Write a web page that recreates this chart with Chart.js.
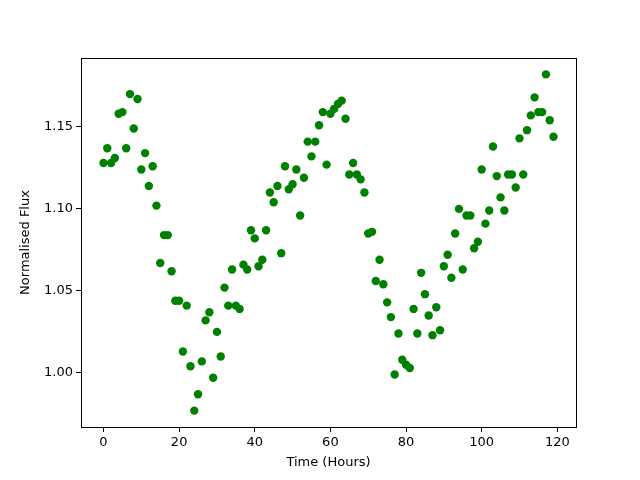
<!DOCTYPE html>
<html>
<head>
<meta charset="utf-8">
<script src="https://cdn.jsdelivr.net/npm/chart.js@4/dist/chart.umd.min.js"></script>
<style>
  html, body { margin: 0; padding: 0; background: #fff; }
  canvas { display: block; }
</style>
</head>
<body>
<canvas id="myChart" width="640" height="480"></canvas>
<script>
// time in hours, one reading per hour
const hours = [];
for (let i = 0; i < 120; i++) hours.push(i);

const flux = [
  1.128, 1.137, 1.128, 1.131, 1.158, 1.159, 1.137, 1.170, 1.149, 1.167,
  1.124, 1.134, 1.114, 1.126, 1.102, 1.067, 1.084, 1.084, 1.062, 1.044,
  1.044, 1.013, 1.041, 1.004, 0.977, 0.987, 1.007, 1.032, 1.037, 0.997,
  1.025, 1.010, 1.052, 1.041, 1.063, 1.041, 1.039, 1.066, 1.063, 1.087,
  1.082, 1.065, 1.069, 1.087, 1.110, 1.104, 1.114, 1.073, 1.126, 1.112,
  1.115, 1.124, 1.096, 1.119, 1.141, 1.132, 1.141, 1.151, 1.159, 1.127,
  1.158, 1.161, 1.164, 1.166, 1.155, 1.121, 1.128, 1.121, 1.118, 1.110,
  1.085, 1.086, 1.056, 1.069, 1.054, 1.043, 1.034, 0.999, 1.024, 1.008,
  1.005, 1.003, 1.039, 1.024, 1.061, 1.048, 1.035, 1.023, 1.040, 1.026,
  1.065, 1.072, 1.058, 1.085, 1.100, 1.063, 1.096, 1.096, 1.076, 1.080,
  1.124, 1.091, 1.099, 1.138, 1.120, 1.107, 1.099, 1.121, 1.121, 1.113,
  1.143, 1.121, 1.148, 1.157, 1.168, 1.159, 1.159, 1.182, 1.154, 1.144
];

const xTicks = [0, 20, 40, 60, 80, 100, 120];
const yTicks = [1.00, 1.05, 1.10, 1.15];

const points = hours.map((h, i) => ({ x: h, y: flux[i] }));

// box around the plot area, like matplotlib spines
const frame = {
  id: "frame",
  afterDraw(chart) {
    const { ctx, chartArea: a } = chart;
    ctx.save();
    ctx.strokeStyle = "#000";
    ctx.lineWidth = 1;
    ctx.strokeRect(a.left + 0.5, a.top + 0.5, a.right - a.left, a.bottom - a.top);
    ctx.restore();
  },
};

const font = { family: "DejaVu Sans", size: 13 };

const ctx = document.getElementById("myChart").getContext("2d");
new Chart(ctx, {
  type: "scatter",
  data: {
    datasets: [
      {
        data: points,
        backgroundColor: "#008000",
        borderColor: "#008000",
        borderWidth: 0,
        pointRadius: 4.2,
        pointHoverRadius: 4.2,
      },
    ],
  },
  options: {
    responsive: false,
    animation: false,
    layout: { padding: { top: 58, right: 64, left: 0, bottom: 0 } },
    plugins: { legend: { display: false }, tooltip: { enabled: false } },
    scales: {
      x: {
        type: "linear",
        min: -5.95,
        max: 124.95,
        afterBuildTicks: (s) => { s.ticks = xTicks.map((v) => ({ value: v })); },
        afterFit: (s) => { s.height = 53; },
        grid: { display: true, drawOnChartArea: false, drawTicks: true, tickLength: 5, color: "#000" },
        border: { display: false },
        ticks: { color: "#000", font: font, padding: 3, maxRotation: 0 },
        title: { display: true, text: "Time (Hours)", color: "#000", font: font, padding: { top: 2, bottom: 10 } },
      },
      y: {
        type: "linear",
        min: 0.967,
        max: 1.192,
        afterBuildTicks: (s) => { s.ticks = yTicks.map((v) => ({ value: v })); },
        afterFit: (s) => { s.width = 81; },
        grid: { display: true, drawOnChartArea: false, drawTicks: true, tickLength: 5, color: "#000" },
        border: { display: false },
        ticks: { color: "#000", font: font, padding: 3, callback: (v) => v.toFixed(2) },
        title: { display: true, text: "Normalised Flux", color: "#000", font: font, padding: { top: 18, bottom: 0 } },
      },
    },
  },
  plugins: [frame],
});
</script>
</body>
</html>
